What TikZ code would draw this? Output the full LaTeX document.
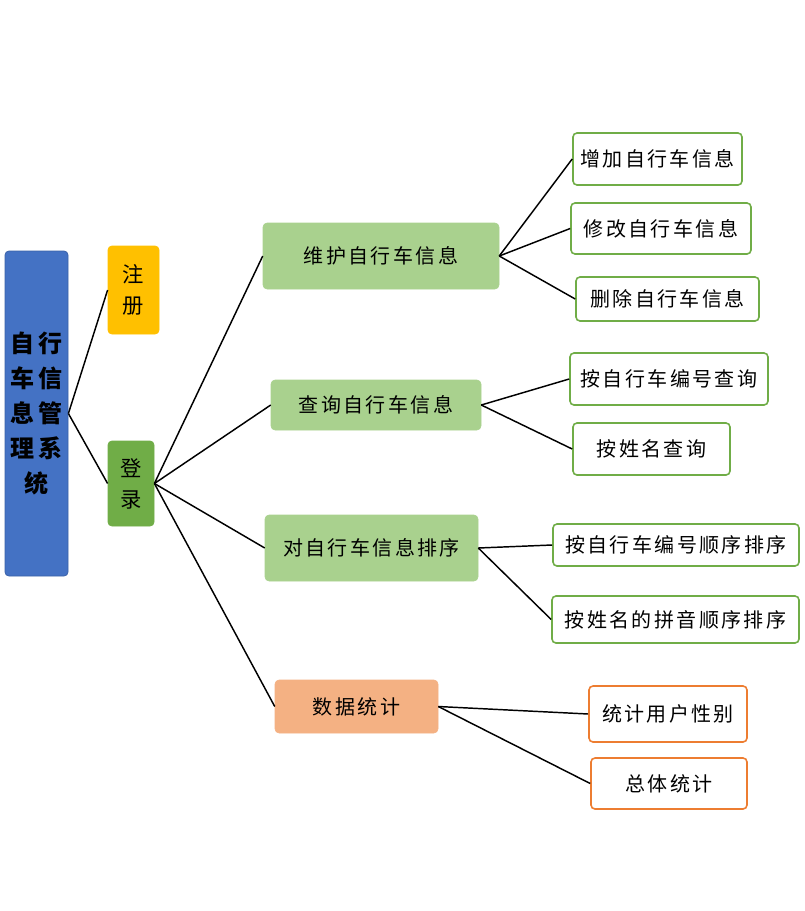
\documentclass[tikz,border=0pt]{standalone}
\usepackage{fontspec}
\newfontfamily\cjk[LetterSpace=18]{Noto Sans CJK SC}
\newfontfamily\cjkn[LetterSpace=12]{Noto Sans CJK SC}
\definecolor{mainblue}{HTML}{4472C4}
\definecolor{regyellow}{HTML}{FFC000}
\definecolor{loggreen}{HTML}{70AD47}
\definecolor{lightgreen}{HTML}{A9D18E}
\definecolor{lightorange}{HTML}{F4B183}
\definecolor{darkorange}{HTML}{ED7D31}
\begin{document}
\begin{tikzpicture}[x=0.75pt,y=-0.75pt,
  box/.style={rectangle,rounded corners=3pt,inner sep=0pt,align=center},
  mainbox/.style={box,fill=mainblue,draw=mainblue!85!black,line width=0.6pt,font=\cjk\bfseries\fontsize{18}{26.3}\selectfont},
  topbox/.style={box,line width=0.6pt,font=\cjk\fontsize{16}{23.3}\selectfont},
  midbox/.style={box,fill=lightgreen,draw=lightgreen,font=\cjkn\fontsize{15}{16}\selectfont},
  statbox/.style={box,fill=lightorange,draw=lightorange,font=\cjkn\fontsize{15}{16}\selectfont},
  leafbox/.style={box,fill=white,draw=loggreen,line width=1.2pt,font=\cjkn\fontsize{15}{16}\selectfont},
  leafo/.style={box,fill=white,draw=darkorange,line width=1.2pt,font=\cjkn\fontsize{15}{16}\selectfont},
  link/.style={draw=black,line width=1.1pt}]
\useasboundingbox (0,0) rectangle (804,911);

\node[mainbox,minimum width=47.25pt,minimum height=243.75pt] (sys) at (36.5,413.5) {自行\\车信\\息管\\理系\\统};
\node[topbox,fill=regyellow,draw=regyellow,minimum width=38.25pt,minimum height=66pt] (reg) at (133.5,290) {注\\册};
\node[topbox,fill=loggreen,draw=loggreen,minimum width=34.5pt,minimum height=63.75pt] (log) at (131,483.5) {登\\录};

\node[midbox,minimum width=177pt,minimum height=49.5pt] (wh) at (381,256) {维护自行车信息};
\node[midbox,minimum width=157.5pt,minimum height=37.5pt] (cx) at (376,405) {查询自行车信息};
\node[midbox,minimum width=159.75pt,minimum height=49.5pt] (px) at (371.5,548) {对自行车信息排序};
\node[statbox,minimum width=122.25pt,minimum height=39.75pt] (tj) at (356.5,706.5) {数据统计};

\node[leafbox,minimum width=126.75pt,minimum height=39pt] (zj) at (657.5,159) {增加自行车信息};
\node[leafbox,minimum width=135pt,minimum height=38.25pt] (xg) at (661,228.5) {修改自行车信息};
\node[leafbox,minimum width=137.25pt,minimum height=33pt] (sc) at (667.5,299) {删除自行车信息};
\node[leafbox,minimum width=148.5pt,minimum height=39pt] (bhcx) at (669,379) {按自行车编号查询};
\node[leafbox,minimum width=117.75pt,minimum height=39pt] (xmcx) at (651.5,449) {按姓名查询};
\node[leafbox,minimum width=184.5pt,minimum height=31.5pt] (bhpx) at (676,545) {按自行车编号顺序排序};
\node[leafbox,minimum width=185.25pt,minimum height=35.25pt] (pypx) at (675.5,619.5) {按姓名的拼音顺序排序};
\node[leafo,minimum width=118.5pt,minimum height=42pt] (xb) at (668,714) {统计用户性别};
\node[leafo,minimum width=117pt,minimum height=38.25pt] (zt) at (669,783.5) {总体统计};

\draw[link] (sys.east) -- (reg.west);
\draw[link] (sys.east) -- (log.west);
\draw[link] (log.east) -- (wh.west);
\draw[link] (log.east) -- (cx.west);
\draw[link] (log.east) -- (px.west);
\draw[link] (log.east) -- (tj.west);
\draw[link] (wh.east) -- (zj.west);
\draw[link] (wh.east) -- (xg.west);
\draw[link] (wh.east) -- (sc.west);
\draw[link] (cx.east) -- (bhcx.west);
\draw[link] (cx.east) -- (xmcx.west);
\draw[link] (px.east) -- (bhpx.west);
\draw[link] (px.east) -- (pypx.west);
\draw[link] (tj.east) -- (xb.west);
\draw[link] (tj.east) -- (zt.west);
\end{tikzpicture}
\end{document}
